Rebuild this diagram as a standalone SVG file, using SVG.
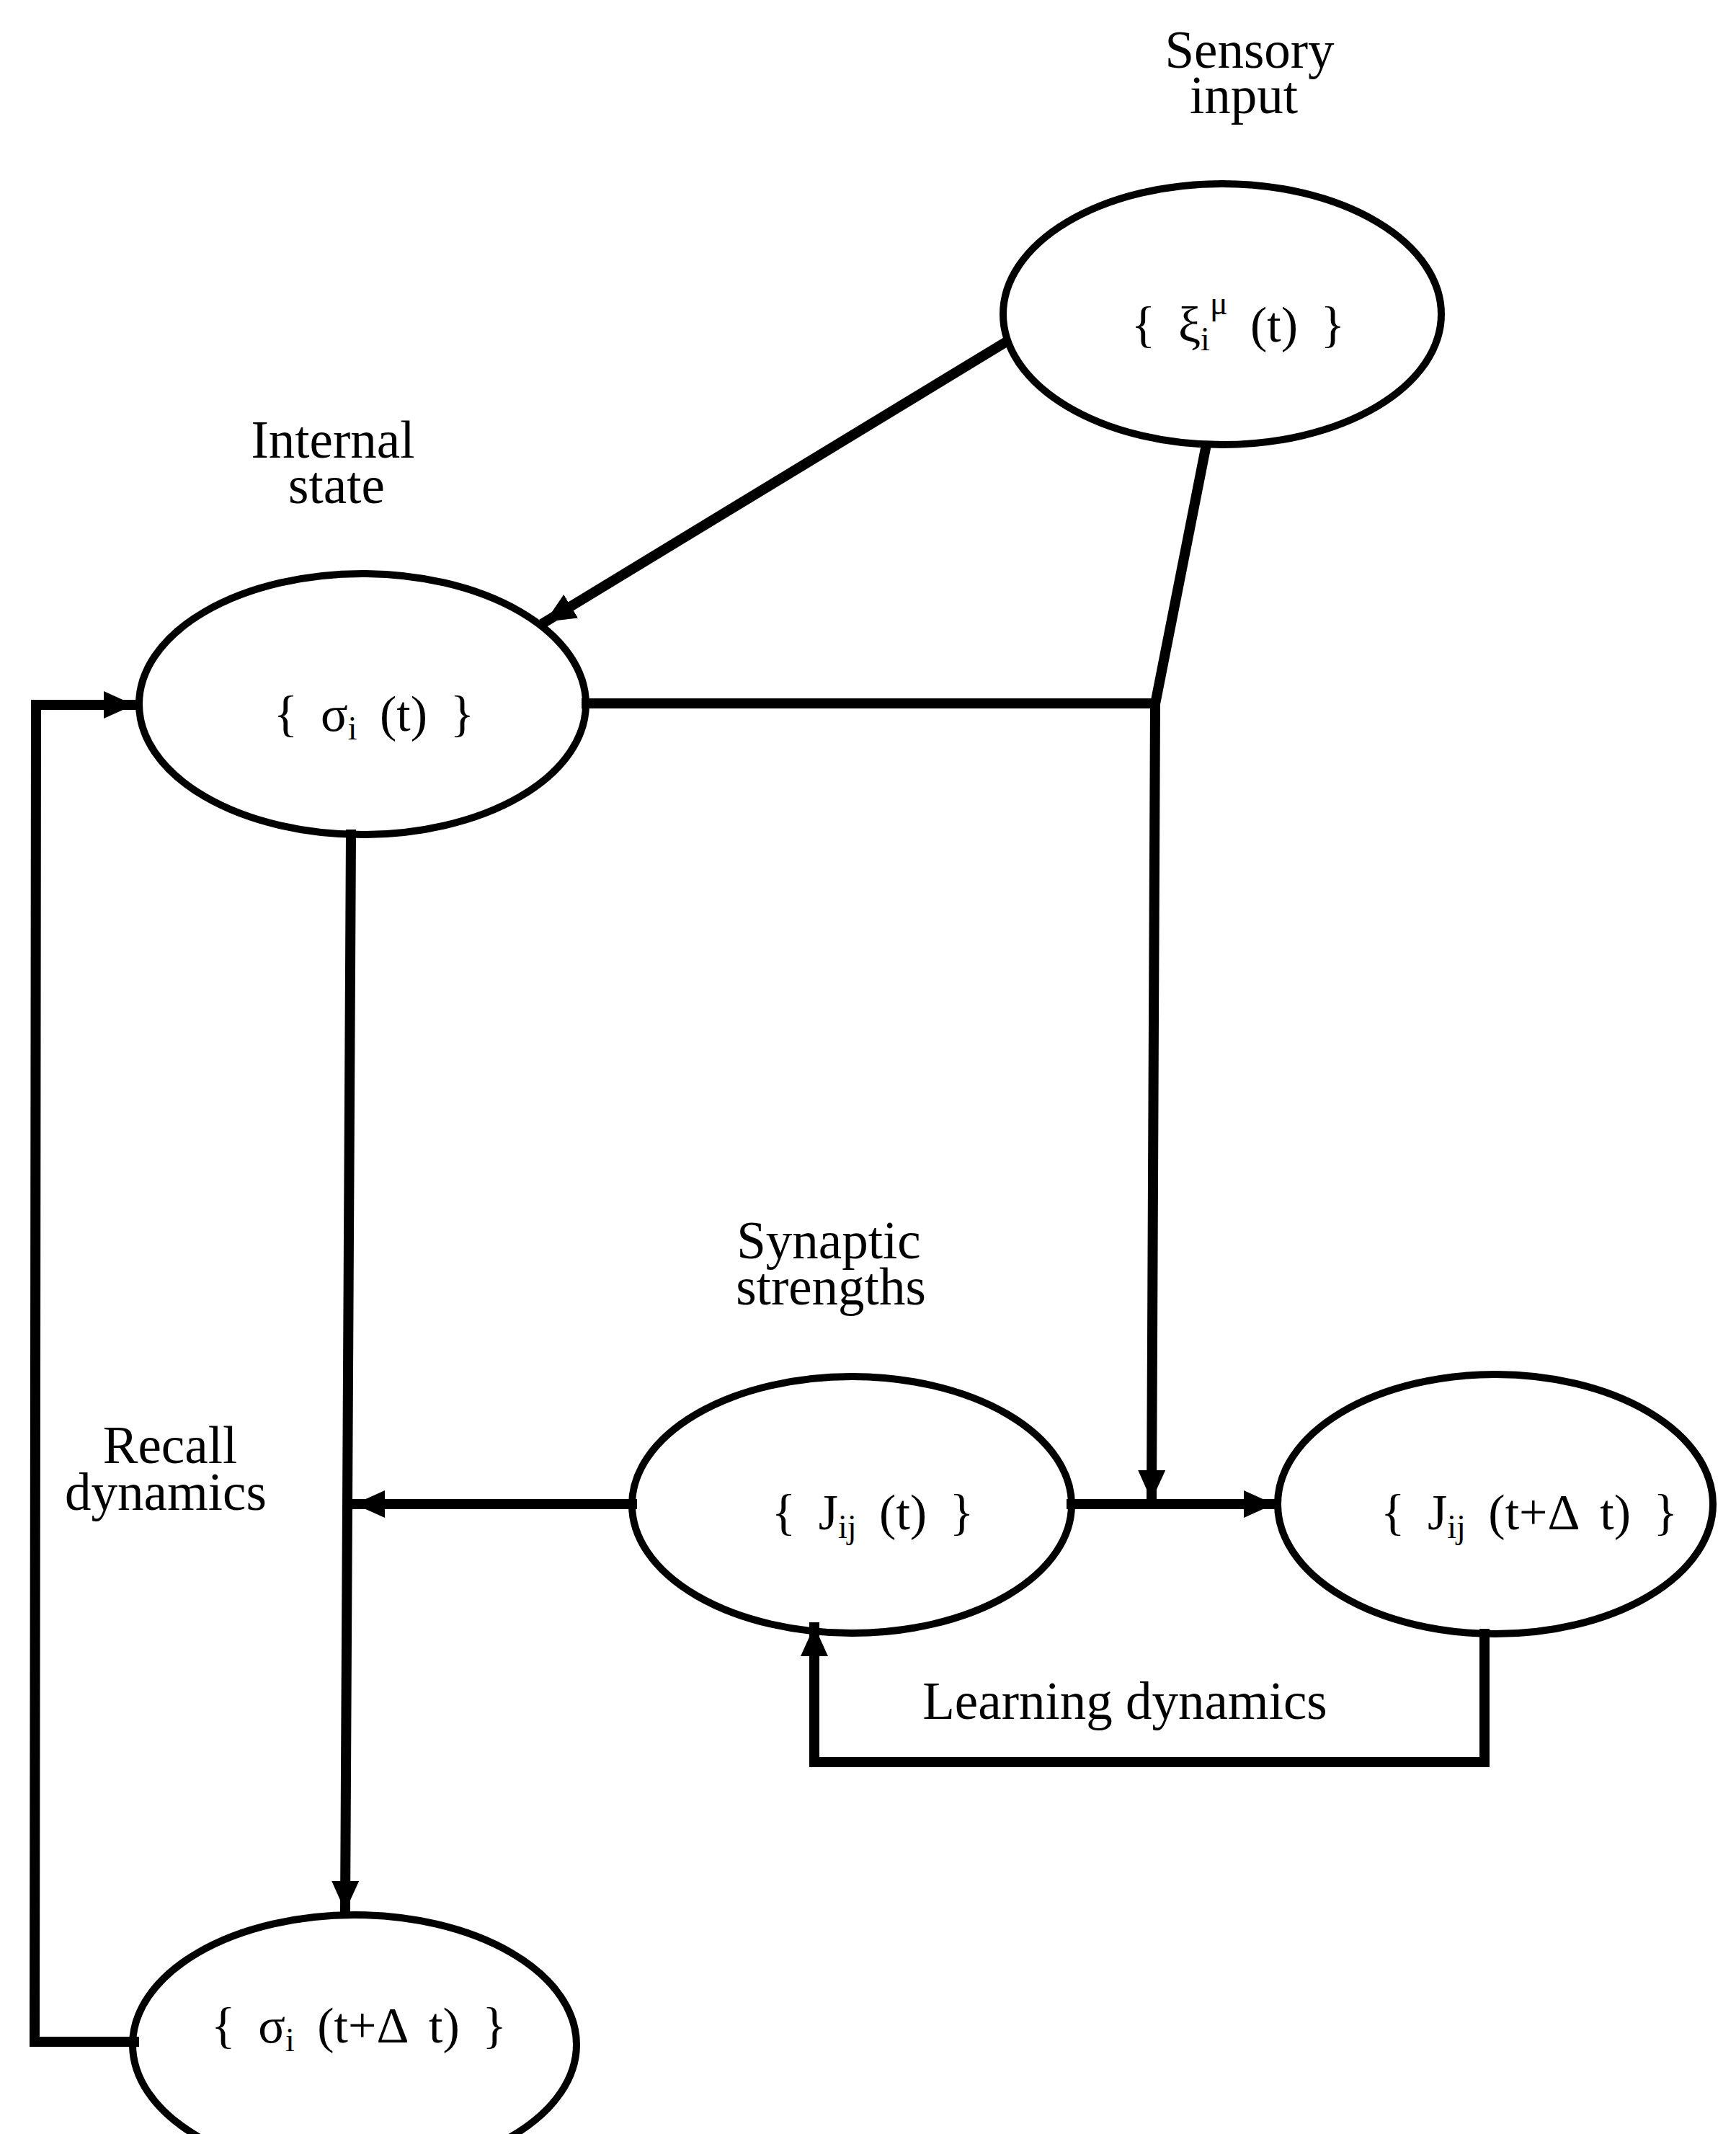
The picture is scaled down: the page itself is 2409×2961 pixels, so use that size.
<svg xmlns="http://www.w3.org/2000/svg" width="2409" height="2961" viewBox="0 0 2409 2961">
  <style>
    .node { fill: none; stroke: #000; stroke-width: 10; }
    .edge { fill: none; stroke: #000; stroke-width: 14; stroke-linejoin: miter; stroke-linecap: square; }
    .label { font-family: "Liberation Serif", "Times New Roman", serif; font-size: 73px; fill: #000; text-anchor: middle; }
    .math { font-family: "Liberation Serif", "Times New Roman", serif; font-size: 70px; fill: #000; text-anchor: middle; word-spacing: 14px; }
    .sub { font-size: 46px; }
  </style>
  <defs>
    <marker id="arrow" markerUnits="userSpaceOnUse" viewBox="0 0 42 38" refX="40" refY="19" markerWidth="42" markerHeight="38" orient="auto">
      <path d="M0,0 L42,19 L0,38 z" fill="#000"/>
    </marker>
  </defs>
  <rect width="2409" height="2961" fill="#fff"/>

  <g id="connectors">
    <!-- sensory input to internal state -->
    <path class="edge" d="M1395,475 L758,862" stroke-width="16" marker-end="url(#arrow)"/>
    <!-- sensory input down to learning junction -->
    <path class="edge" d="M1673,622 L1603,977 L1598,2080" marker-end="url(#arrow)"/>
    <!-- internal state to junction -->
    <path class="edge" d="M814,976 L1603,976"/>
    <!-- internal state down to next state -->
    <path class="edge" d="M487,1158 L479,2650" marker-end="url(#arrow)"/>
    <!-- J(t) to recall line -->
    <path class="edge" d="M877,2087 L494,2087" marker-end="url(#arrow)"/>
    <!-- J(t) to J(t+dt) -->
    <path class="edge" d="M1487,2087 L1766,2087" marker-end="url(#arrow)"/>
    <!-- learning dynamics loop -->
    <path class="edge" d="M2060,2267 L2060,2445 L1130,2445 L1130,2258" marker-end="url(#arrow)"/>
    <!-- recall dynamics loop -->
    <path class="edge" d="M186,2833 L48,2833 L50,978 L184,978" marker-end="url(#arrow)"/>
  </g>

  <g id="sensory-input">
    <ellipse class="node" cx="1696" cy="436" rx="304" ry="181"/>
    <text class="label" x="1734" y="94">Sensory</text>
    <text class="label" x="1726" y="157">input</text>
    <text class="math" x="1718" y="474">{ ξ<tspan class="sub" dy="12">i</tspan><tspan class="sub" dy="-50">μ</tspan><tspan dy="38"> (t) }</tspan></text>
  </g>

  <g id="internal-state">
    <ellipse class="node" cx="503" cy="977" rx="310" ry="181"/>
    <text class="label" x="462" y="635">Internal</text>
    <text class="label" x="467" y="698">state</text>
    <text class="math" x="519" y="1014">{ σ<tspan class="sub" dy="12">i</tspan><tspan dy="-12"> (t) }</tspan></text>
  </g>

  <g id="synaptic-strengths">
    <ellipse class="node" cx="1182" cy="2088" rx="305" ry="178"/>
    <text class="label" x="1150" y="1746">Synaptic</text>
    <text class="label" x="1153" y="1810">strengths</text>
    <text class="math" x="1211" y="2122">{ J<tspan class="sub" dy="12">ij</tspan><tspan dy="-12"> (t)  }</tspan></text>
  </g>

  <g id="synaptic-strengths-next">
    <ellipse class="node" cx="2075" cy="2087" rx="302" ry="180"/>
    <text class="math" x="2122" y="2122">{ J<tspan class="sub" dy="12">ij</tspan><tspan dy="-12"> (t+Δ t)  }</tspan></text>
  </g>

  <g id="internal-state-next">
    <ellipse class="node" cx="492" cy="2837" rx="308" ry="180"/>
    <text class="math" x="498" y="2834">{ σ<tspan class="sub" dy="12">i</tspan><tspan dy="-12"> (t+Δ t)  }</tspan></text>
  </g>

  <g id="labels">
    <text class="label" x="236" y="2030">Recall</text>
    <text class="label" x="230" y="2095">dynamics</text>
    <text class="label" x="1561" y="2385">Learning dynamics</text>
  </g>
</svg>
